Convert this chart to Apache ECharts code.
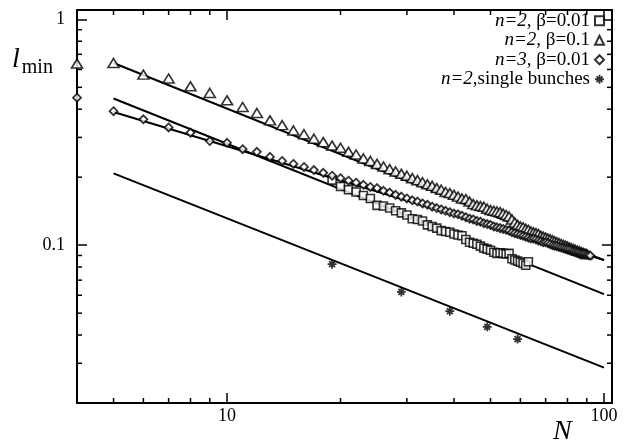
<!DOCTYPE html>
<html>
<head>
<meta charset="utf-8">
<script src="https://cdn.jsdelivr.net/npm/echarts@6/dist/echarts.min.js"></script>
<style>
  html, body { margin: 0; padding: 0; background: #fff; }
  #chart { width: 641px; height: 447px; }
</style>
</head>
<body>
<div id="chart"></div>
<script>
// axis ranges and ticks
var xMin = 4, xMax = 105;
var yMin = 0.02, yMax = 1.1;
var xTickLabels = [10, 100];
var yTickLabels = [0.1, 1];
var xMinorTicks = [5, 6, 7, 8, 9, 20, 30, 40, 50, 60, 70, 80, 90];
var yMinorTicks = [0.03, 0.04, 0.05, 0.06, 0.07, 0.08, 0.09, 0.2, 0.3, 0.4, 0.5, 0.6, 0.7, 0.8, 0.9];

var seriesNames = ['n=2, β=0.01', 'n=2, β=0.1', 'n=3, β=0.01', 'n=2,single bunches'];

// n=2, beta=0.01 (squares), N = 19 .. 63
var sqFirstN = 19;
var sqValues = [0.194, 0.182, 0.176, 0.172, 0.166, 0.161, 0.150, 0.149, 0.146, 0.142,
  0.139, 0.136, 0.131, 0.130, 0.128, 0.123, 0.121, 0.119, 0.116, 0.115,
  0.114, 0.112, 0.111, 0.110, 0.106, 0.103, 0.102, 0.101, 0.099, 0.097,
  0.096, 0.095, 0.093, 0.092, 0.0925, 0.092, 0.0915, 0.092, 0.087, 0.086,
  0.085, 0.084, 0.083, 0.0815, 0.0845];

// n=2, beta=0.1 (triangles), N = 4 .. 90
var triFirstN = 4;
var triValues = [0.637, 0.641, 0.569, 0.547, 0.505, 0.472, 0.438, 0.409, 0.385, 0.357,
  0.340, 0.322, 0.310, 0.296, 0.286, 0.276, 0.270, 0.259, 0.252, 0.242,
  0.236, 0.229, 0.223, 0.217, 0.212, 0.207, 0.203, 0.198, 0.194, 0.190,
  0.186, 0.183, 0.179, 0.176, 0.172, 0.170, 0.167, 0.164, 0.161, 0.160,
  0.156, 0.152, 0.150, 0.149, 0.148, 0.145, 0.143, 0.142, 0.141, 0.140,
  0.138, 0.136, 0.134, 0.130, 0.126, 0.123, 0.121, 0.120, 0.118, 0.117,
  0.115, 0.114, 0.113, 0.112, 0.110, 0.109, 0.108, 0.107, 0.106, 0.105,
  0.104, 0.103, 0.102, 0.101, 0.100, 0.0995, 0.0985, 0.0975, 0.0968, 0.0960,
  0.0952, 0.0945, 0.0940, 0.0932, 0.0925, 0.0918, 0.0912];

// n=3, beta=0.01 (diamonds), N = 4 .. 92
var diaFirstN = 4;
var diaValues = [0.450, 0.392, 0.361, 0.332, 0.315, 0.289, 0.284, 0.266, 0.259, 0.246,
  0.236, 0.229, 0.222, 0.215, 0.209, 0.203, 0.198, 0.193, 0.189, 0.185,
  0.181, 0.179, 0.174, 0.171, 0.167, 0.164, 0.161, 0.158, 0.156, 0.153,
  0.151, 0.148, 0.146, 0.144, 0.142, 0.140, 0.138, 0.137, 0.135, 0.133,
  0.131, 0.130, 0.128, 0.127, 0.125, 0.124, 0.123, 0.121, 0.120, 0.119,
  0.118, 0.117, 0.116, 0.114, 0.113, 0.112, 0.111, 0.110, 0.109, 0.108,
  0.107, 0.107, 0.106, 0.105, 0.104, 0.103, 0.103, 0.102, 0.101, 0.100,
  0.0995, 0.0990, 0.0982, 0.0976, 0.0970, 0.0965, 0.0960, 0.0955, 0.0948, 0.0942,
  0.0937, 0.0932, 0.0928, 0.0922, 0.0918, 0.0913, 0.0908, 0.0904, 0.0899];

// n=2, single bunches (asterisks)
var singleN = [19, 29, 39, 49, 59];
var singleValues = [0.0824, 0.0621, 0.0510, 0.0435, 0.0384];

// fitted power-law lines (end points)
var fitSq = [[5, 0.446], [100, 0.0607]];
var fitTri = [[5, 0.641], [100, 0.0859]];
var fitDia = [[5, 0.389], [100, 0.0859]];
var fitSingle = [[5, 0.208], [100, 0.0287]];

var serif = '"Liberation Serif", "DejaVu Serif", serif';
var asterisk = 'path://M0 4L10 4L10 6L0 6Z M4 0L6 0L6 10L4 10Z M1 2.4L2.4 1L9 7.6L7.6 9Z M7.6 1L9 2.4L2.4 9L1 7.6Z';

function pairs(firstN, vals) {
    var out = [];
    for (var i = 0; i < vals.length; i++) {
        out.push([firstN + i, vals[i]]);
    }
    return out;
}

function isTick(v, list) {
    for (var i = 0; i < list.length; i++) {
        if (Math.abs(v - list[i]) / list[i] < 1e-6) return true;
    }
    return false;
}

function minorTickSeries(horizontal) {
    var data = horizontal
        ? xMinorTicks.map(function (v) { return [v, yMin]; })
        : yMinorTicks.map(function (v) { return [xMin, v]; });
    return {
        type: 'custom',
        silent: true,
        clip: false,
        z: 5,
        data: data,
        renderItem: function (params, api) {
            var a, b, s1, s2;
            if (horizontal) {
                a = api.coord([api.value(0), yMin]);
                b = api.coord([api.value(0), yMax]);
                s1 = { x1: a[0], y1: a[1], x2: a[0], y2: a[1] - 5 };
                s2 = { x1: b[0], y1: b[1], x2: b[0], y2: b[1] + 5 };
            } else {
                a = api.coord([xMin, api.value(1)]);
                b = api.coord([xMax, api.value(1)]);
                s1 = { x1: a[0], y1: a[1], x2: a[0] + 5, y2: a[1] };
                s2 = { x1: b[0], y1: b[1], x2: b[0] - 5, y2: b[1] };
            }
            return {
                type: 'group',
                children: [
                    { type: 'line', shape: s1, style: { stroke: '#000', lineWidth: 1.5 } },
                    { type: 'line', shape: s2, style: { stroke: '#000', lineWidth: 1.5 } }
                ]
            };
        }
    };
}

function fitLine(d) {
    return {
        type: 'line',
        data: d,
        symbol: 'none',
        silent: true,
        z: 1,
        lineStyle: { color: '#000', width: 2 }
    };
}

var hollow = { color: '#fff', borderColor: '#000', borderWidth: 1.6 };

var axisLineStyle = { show: true, lineStyle: { color: '#000', width: 2 } };
var majorTick = { show: true, inside: true, length: 10, lineStyle: { color: '#000', width: 1.5 } };

var myChart = echarts.init(document.getElementById('chart'), null, { renderer: 'canvas' });

var option = {
    animation: false,
    backgroundColor: '#fff',
    grid: { left: 77, right: 29, top: 10, bottom: 44 },
    legend: {
        data: seriesNames,
        orient: 'vertical',
        align: 'right',
        right: 36,
        top: 11,
        padding: 0,
        itemGap: 0,
        itemWidth: 9,
        itemHeight: 9,
        selectedMode: false,
        formatter: function (name) {
            return name.replace(/^(n=\d)/, '{i|$1}');
        },
        textStyle: {
            fontFamily: serif,
            fontSize: 19,
            color: '#000',
            lineHeight: 19.5,
            rich: {
                i: { fontFamily: serif, fontSize: 19, fontStyle: 'italic', color: '#000', lineHeight: 19.5 }
            }
        }
    },
    xAxis: [
        {
            type: 'log', min: xMin, max: xMax, position: 'bottom',
            axisLine: axisLineStyle, axisTick: majorTick, splitLine: { show: false },
            axisLabel: {
                margin: 4,
                fontFamily: serif, fontSize: 18, color: '#000',
                formatter: function (v) { return isTick(v, xTickLabels) ? String(Math.round(v)) : ''; }
            }
        },
        {
            type: 'log', min: xMin, max: xMax, position: 'top',
            axisLine: axisLineStyle, axisTick: majorTick, splitLine: { show: false },
            axisLabel: { show: false }
        }
    ],
    yAxis: [
        {
            type: 'log', min: yMin, max: yMax, position: 'left',
            axisLine: axisLineStyle, axisTick: majorTick, splitLine: { show: false },
            axisLabel: {
                margin: 12,
                fontFamily: serif, fontSize: 18, color: '#000',
                formatter: function (v) { return isTick(v, yTickLabels) ? String(v) : ''; }
            }
        },
        {
            type: 'log', min: yMin, max: yMax, position: 'right',
            axisLine: axisLineStyle, axisTick: majorTick, splitLine: { show: false },
            axisLabel: { show: false }
        }
    ],
    graphic: [
        {
            type: 'text', left: 12, top: 46,
            style: {
                text: '{l|l}{m|min}',
                rich: {
                    l: { fontFamily: serif, fontSize: 28, fontStyle: 'italic', fill: '#000', verticalAlign: 'bottom' },
                    m: { fontFamily: serif, fontSize: 20, fill: '#000', verticalAlign: 'bottom', padding: [0, 0, -4, 2] }
                }
            }
        },
        {
            type: 'text', left: 553, top: 418,
            style: { text: 'N', fontFamily: serif, fontSize: 28, fontStyle: 'italic', fill: '#000' }
        }
    ],
    series: [
        fitLine(fitSq),
        fitLine(fitTri),
        fitLine(fitDia),
        fitLine(fitSingle),
        {
            name: seriesNames[0], type: 'scatter', data: pairs(sqFirstN, sqValues),
            symbol: 'rect', symbolSize: 8, itemStyle: hollow, z: 3
        },
        {
            name: seriesNames[1], type: 'scatter', data: pairs(triFirstN, triValues),
            symbol: 'triangle', symbolSize: [11, 9], itemStyle: hollow, z: 3
        },
        {
            name: seriesNames[2], type: 'scatter', data: pairs(diaFirstN, diaValues),
            symbol: 'diamond', symbolSize: 8, itemStyle: { color: '#fff', borderColor: '#000', borderWidth: 1.8 }, z: 3
        },
        {
            name: seriesNames[3], type: 'scatter',
            data: singleN.map(function (n, i) { return [n, singleValues[i]]; }),
            symbol: asterisk, symbolSize: 9, itemStyle: { color: '#000' }, z: 3
        },
        minorTickSeries(true),
        minorTickSeries(false)
    ]
};

myChart.setOption(option);
</script>
</body>
</html>
